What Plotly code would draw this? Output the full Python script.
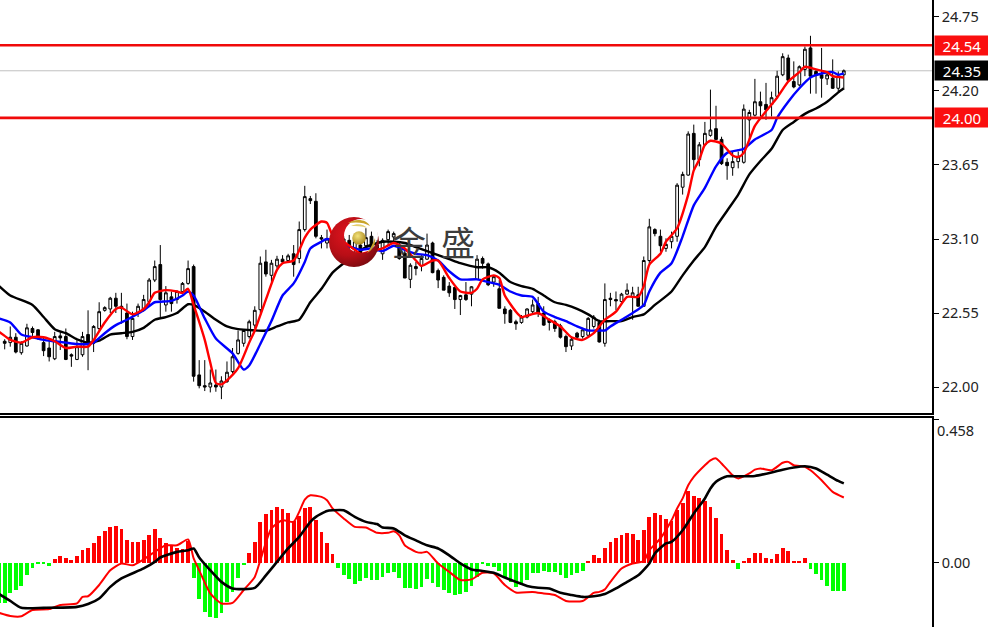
import base64
import plotly.graph_objects as go

# ---- candle data (prices) ----
highs = [22.355,22.45,22.40,22.34,22.47,22.45,22.43,22.375,22.35,22.41,
 22.41,22.435,22.25,22.35,22.41,22.57,22.46,22.63,22.60,22.67,
 22.70,22.70,22.62,22.56,22.62,22.685,22.81,22.94,23.055,22.75,
 22.71,22.72,22.78,22.94,22.91,22.20,22.20,22.13,22.13,22.08,
 22.19,22.29,22.42,22.42,22.50,22.60,22.97,23.02,22.945,22.975,
 22.98,22.99,23.055,23.23,23.495,23.42,23.44,23.13,23.17,23.13,
 23.14,23.12,23.13,23.105,23.09,23.18,23.155,23.09,23.105,23.17,
 23.155,23.07,23.03,22.92,22.93,22.98,23.14,23.08,22.88,22.83,
 22.78,22.745,22.685,22.78,22.75,22.98,22.97,22.925,22.83,22.795,
 22.60,22.58,22.50,22.535,22.585,22.65,22.67,22.60,22.51,22.50,
 22.47,22.39,22.375,22.41,22.44,22.52,22.535,22.50,22.77,22.70,
 22.71,22.70,22.77,22.745,22.745,22.97,23.25,23.18,23.17,23.105,
 23.155,23.515,23.60,23.90,23.95,23.82,23.97,24.21,24.09,23.86,
 23.70,23.75,23.75,24.10,24.06,24.29,24.195,24.26,24.195,24.35,
 24.48,24.47,24.42,24.39,24.53,24.61,24.36,24.52,24.345,24.435,24.345,24.36]
body_tops = [22.34,22.37,22.37,22.325,22.44,22.435,22.425,22.33,22.29,22.375,
 22.38,22.375,22.24,22.30,22.375,22.39,22.45,22.56,22.59,22.66,
 22.66,22.60,22.55,22.51,22.60,22.65,22.795,22.895,22.91,22.70,
 22.67,22.71,22.77,22.88,22.895,22.09,22.01,22.03,22.015,22.045,
 22.11,22.225,22.35,22.42,22.485,22.57,22.92,22.93,22.92,22.95,
 22.95,22.975,22.99,23.17,23.415,23.40,23.38,23.11,23.10,23.10,
 23.105,23.10,23.09,23.08,23.055,23.11,23.12,23.055,23.09,23.155,
 23.14,23.055,22.995,22.905,22.895,22.955,23.055,23.07,22.865,22.815,
 22.75,22.74,22.68,22.685,22.745,22.95,22.955,22.915,22.82,22.73,
 22.58,22.57,22.485,22.52,22.58,22.61,22.62,22.55,22.50,22.485,
 22.455,22.375,22.355,22.40,22.425,22.51,22.52,22.48,22.65,22.66,
 22.65,22.69,22.72,22.70,22.685,22.94,23.19,23.17,23.12,23.06,
 23.12,23.50,23.58,23.88,23.885,23.80,23.885,23.91,23.92,23.84,
 23.67,23.675,23.71,24.065,24.04,24.12,24.12,24.10,24.15,24.31,
 24.455,24.445,24.27,24.38,24.51,24.52,24.345,24.32,24.32,24.295,24.31,24.35]
body_bottoms = [22.325,22.33,22.26,22.255,22.305,22.405,22.36,22.27,22.225,22.21,
 22.365,22.205,22.23,22.205,22.24,22.325,22.325,22.435,22.57,22.58,
 22.60,22.585,22.375,22.375,22.55,22.57,22.635,22.795,22.65,22.61,
 22.62,22.65,22.71,22.77,22.08,22.01,22.00,22.00,22.00,22.00,
 22.04,22.115,22.25,22.325,22.375,22.46,22.575,22.84,22.83,22.90,
 22.93,22.94,22.91,22.955,23.17,23.385,23.12,23.10,23.07,23.07,
 23.055,23.055,23.04,23.03,22.995,23.05,23.03,23.03,22.99,23.095,
 23.115,22.955,22.81,22.80,22.88,22.90,22.95,22.85,22.795,22.72,
 22.70,22.65,22.65,22.65,22.69,22.80,22.92,22.76,22.78,22.585,
 22.545,22.48,22.47,22.48,22.52,22.56,22.55,22.46,22.48,22.435,
 22.37,22.30,22.305,22.37,22.375,22.385,22.45,22.335,22.325,22.65,
 22.64,22.635,22.69,22.67,22.60,22.60,22.94,23.14,23.05,23.03,
 23.08,23.12,23.485,23.575,23.69,23.69,23.80,23.87,23.84,23.66,
 23.645,23.63,23.675,23.67,23.985,24.02,24.09,24.06,24.10,24.16,
 24.32,24.28,24.23,24.245,24.36,24.31,24.32,24.295,24.29,24.22,24.22,24.32]
lows = [22.28,22.30,22.25,22.24,22.30,22.38,22.35,22.23,22.19,22.20,
 22.275,22.20,22.15,22.20,22.225,22.125,22.26,22.42,22.56,22.55,
 22.55,22.47,22.355,22.35,22.52,22.56,22.60,22.78,22.52,22.56,
 22.56,22.62,22.70,22.76,22.04,21.99,21.97,21.96,21.965,21.91,
 22.03,22.10,22.24,22.30,22.36,22.435,22.55,22.82,22.78,22.88,
 22.92,22.925,22.82,22.92,23.155,23.36,23.105,23.03,23.03,23.04,
 23.03,23.03,23.005,22.995,22.98,23.04,23.005,23.005,22.945,23.055,
 23.08,22.945,22.81,22.735,22.83,22.86,22.945,22.845,22.735,22.72,
 22.67,22.58,22.535,22.64,22.60,22.795,22.88,22.75,22.745,22.585,
 22.47,22.475,22.425,22.47,22.51,22.55,22.52,22.455,22.42,22.41,
 22.36,22.26,22.275,22.355,22.36,22.38,22.435,22.33,22.30,22.60,
 22.57,22.62,22.685,22.50,22.60,22.60,22.91,23.12,23.005,23.005,
 23.03,23.08,23.43,23.57,23.61,23.64,23.79,23.86,23.84,23.65,
 23.54,23.57,23.625,23.66,23.84,24.01,24.01,23.985,24.01,24.145,
 24.31,24.27,24.22,24.235,24.31,24.18,24.18,24.15,24.245,24.215,24.195,24.21]
rising = [0,1,0,1,1,0,0,0,0,1,
 0,0,0,1,1,0,1,1,1,1,
 0,0,0,1,1,1,1,1,0,1,
 0,1,1,1,0,0,0,1,0,1,
 1,1,1,1,1,1,1,0,1,1,
 0,1,0,1,1,0,0,0,1,1,
 0,1,0,1,0,1,0,0,1,1,
 1,0,0,1,0,1,1,0,0,0,
 0,0,1,0,1,1,0,0,1,0,
 0,0,0,1,1,1,0,0,0,0,
 0,0,1,0,1,1,1,0,1,0,
 0,1,1,1,0,1,1,0,0,1,
 1,1,1,1,0,1,1,1,0,0,
 0,1,1,1,1,1,0,0,1,1,
 1,0,0,1,1,0,0,0,1,0,1,1]

# ---- moving averages (index, price) ----
red_ma_i = [-1,0,1,3,5,7,9,11,13,15,16,18,20,21,23,25,26,27,29,31,32,33,34,36,37,38,39,40,42,44,45,47,49,50,52,54,55,57,58,59,
 61,63,64,67,68,70,72,74,75,77,78,80,82,84,85,86,88,89,90,92,93,94,96,98,100,102,104,106,108,110,112,114,115,116,118,119,121,123,124,125,126,127,129,131,132,133,135,137,139,141,143,144,146,148,149,151]
red_ma_v = [22.41,22.38,22.35,22.33,22.37,22.37,22.34,22.29,22.30,22.30,22.35,22.48,22.58,22.59,22.54,22.58,22.63,22.70,22.72,22.71,22.70,22.73,22.61,22.35,22.18,22.03,22.02,22.05,22.14,22.33,22.42,22.65,22.87,22.92,22.94,23.11,23.17,23.23,23.22,23.13,
 23.08,23.02,22.99,23.02,23.03,23.07,23.03,22.94,22.90,22.94,22.94,22.81,22.71,22.70,22.73,22.80,22.83,22.81,22.68,22.56,22.52,22.53,22.55,22.50,22.45,22.37,22.35,22.40,22.50,22.56,22.67,22.67,22.75,22.91,22.99,23.08,23.18,23.43,23.61,23.69,23.80,23.83,23.81,23.72,23.71,23.74,23.94,24.05,24.15,24.27,24.34,24.38,24.36,24.34,24.31,24.30]
blue_ma_i = [-1,1,3,5,7,9,11,13,15,16,18,20,22,25,27,30,32,33,34,36,38,41,43,44,46,48,50,52,54,55,57,58,64,66,68,70,72,74,76,78,80,82,85,87,89,91,93,95,97,99,101,103,105,107,108,109,111,113,115,116,118,120,122,124,126,128,130,132,133,135,138,139,141,143,145,147,149,150,151]
blue_ma_v = [22.51,22.48,22.39,22.37,22.35,22.34,22.33,22.32,22.32,22.33,22.40,22.46,22.50,22.57,22.63,22.64,22.68,22.71,22.68,22.51,22.36,22.25,22.13,22.16,22.32,22.49,22.68,22.77,22.93,23.03,23.08,23.10,23.02,23.03,23.01,23.05,23.02,22.99,22.98,22.94,22.86,22.80,22.80,22.78,22.76,22.71,22.68,22.67,22.56,22.52,22.49,22.45,22.42,22.42,22.42,22.45,22.50,22.55,22.61,22.71,22.85,22.92,23.12,23.35,23.48,23.64,23.74,23.76,23.77,23.84,23.91,24.00,24.12,24.22,24.30,24.33,24.34,24.32,24.33]
black_ma_i = [-1,1,5,7,9,11,13,15,17,19,21,23,25,27,29,31,33,34,36,38,40,42,47,49,51,53,55,57,59,61,63,65,68,70,72,74,76,78,80,82,85,87,89,91,93,95,97,99,101,103,105,107,109,111,113,115,117,120,122,124,126,128,130,132,134,136,138,140,142,144,146,148,150,151]
black_ma_v = [22.75,22.68,22.61,22.52,22.43,22.40,22.355,22.33,22.345,22.39,22.40,22.41,22.44,22.50,22.52,22.55,22.615,22.61,22.56,22.50,22.45,22.43,22.42,22.45,22.48,22.50,22.63,22.73,22.85,22.92,22.98,23.04,23.08,23.08,23.07,23.04,23.01,22.98,22.95,22.92,22.89,22.89,22.85,22.78,22.75,22.73,22.68,22.63,22.61,22.58,22.54,22.49,22.49,22.49,22.52,22.54,22.61,22.71,22.83,22.94,23.04,23.19,23.31,23.43,23.58,23.68,23.77,23.91,23.97,24.03,24.07,24.12,24.19,24.22]

# ---- MACD pane ----
hist_v = [-0.131,-0.131,-0.097,-0.088,-0.076,-0.041,-0.016,-0.003,-0.003,-0.012,
 0.010,0.022,0.013,0.007,0.022,0.039,0.045,0.063,0.084,0.101,0.114,
 0.116,0.107,0.071,0.066,0.066,0.071,0.088,0.107,0.080,0.063,
 0.055,0.048,0.043,0.069,-0.048,-0.118,-0.158,-0.174,-0.177,-0.163,
 -0.126,-0.094,-0.048,-0.009,0.031,0.066,0.129,0.155,0.167,0.178,
 0.170,0.159,0.133,0.148,0.176,0.178,0.135,0.098,0.063,0.027,
 -0.017,-0.041,-0.054,-0.069,-0.060,-0.048,-0.057,-0.057,-0.046,-0.035,
 -0.030,-0.048,-0.080,-0.083,-0.086,-0.078,-0.054,-0.065,-0.078,-0.088,
 -0.097,-0.104,-0.101,-0.094,-0.076,-0.046,-0.006,-0.011,-0.014,-0.027,
 -0.046,-0.062,-0.078,-0.072,-0.057,-0.035,-0.032,-0.028,-0.030,-0.030,
 -0.041,-0.048,-0.041,-0.035,-0.027,0.003,0.023,0.013,0.045,0.066,
 0.079,0.087,0.096,0.090,0.071,0.103,0.146,0.160,0.151,0.138,
 0.133,0.167,0.189,0.228,0.212,0.205,0.197,0.178,0.144,0.090,
 0.039,0.007,-0.021,0.004,0.016,0.031,0.031,0.016,0.011,0.027,
 0.048,0.036,0.005,0.004,0.013,-0.021,-0.038,-0.057,-0.075,-0.092,-0.092,-0.092]
macd_red_i = [-1,1,3,5,8,10,13,14,15,17,19,21,23,25,27,29,31,33,34,35,37,39,41,43,45,46,48,50,52,53,54,55,57,58,
 59,61,63,65,67,69,70,71,72,74,75,76,78,80,82,84,86,88,90,92,95,97,99,101,104,106,107,108,109,111,113,115,116,
 118,120,121,122,123,124,126,127,128,129,131,132,134,135,136,138,140,141,142,144,145,147,149,151]
macd_red_v = [-0.161,-0.171,-0.172,-0.152,-0.149,-0.136,-0.131,-0.110,-0.108,-0.072,-0.025,-0.003,-0.009,0.010,0.034,0.055,0.055,0.074,0.013,-0.025,-0.099,-0.131,-0.129,-0.088,-0.046,0.007,0.109,0.135,0.130,0.162,0.201,0.215,0.210,0.199,
 0.173,0.141,0.114,0.112,0.095,0.095,0.100,0.087,0.055,0.034,0.031,0.034,-0.003,-0.030,-0.056,-0.054,-0.033,-0.035,-0.072,-0.096,-0.094,-0.099,-0.104,-0.123,-0.123,-0.097,-0.094,-0.086,-0.062,-0.019,-0.003,0.005,0.039,
 0.077,0.135,0.173,0.205,0.247,0.274,0.311,0.327,0.333,0.317,0.279,0.269,0.285,0.297,0.301,0.295,0.319,0.322,0.311,0.306,0.295,0.263,0.226,0.208]
macd_black_i = [-1,1,3,7,13,15,17,19,21,25,27,28,31,33,34,35,37,39,41,45,47,49,51,53,55,56,58,
 59,61,63,65,67,68,70,72,74,76,78,80,82,84,86,88,90,92,94,96,98,100,102,104,106,108,110,112,114,116,
 117,119,120,122,124,126,127,128,129,130,132,135,138,140,142,144,146,148,150,151]
macd_black_v = [-0.101,-0.123,-0.145,-0.145,-0.142,-0.133,-0.115,-0.078,-0.051,-0.019,0.002,0.016,0.034,0.039,0.045,0.016,-0.025,-0.062,-0.083,-0.081,-0.041,0.002,0.045,0.082,0.130,0.146,0.165,
 0.167,0.167,0.146,0.130,0.123,0.112,0.109,0.087,0.071,0.055,0.045,0.023,-0.003,-0.022,-0.027,-0.033,-0.048,-0.062,-0.075,-0.081,-0.083,-0.097,-0.104,-0.110,-0.108,-0.101,-0.083,-0.062,-0.041,-0.003,
 0.029,0.061,0.066,0.103,0.157,0.205,0.237,0.258,0.269,0.276,0.276,0.277,0.288,0.297,0.304,0.308,0.301,0.281,0.261,0.253]

price_ticks = [22.00, 22.55, 23.10, 23.65, 24.20, 24.75]
level_prices = [24.54, 24.00]
last_price = 24.35
macd_top = 0.458

candle_x = list(range(len(highs)))
opens = [b if u else t for t, b, u in zip(body_tops, body_bottoms, rising)]
closes = [t if u else b for t, b, u in zip(body_tops, body_bottoms, rising)]
hist_x = list(range(-1, len(highs)))
hist_colors = ["#ff0000" if v > 0 else "#00ff00" for v in hist_v]

W, H, AX = 988, 627, 932
FONT = "Noto Sans"

fig = go.Figure()
fig.add_trace(go.Candlestick(
    x=candle_x, open=opens, high=highs, low=lows, close=closes,
    xaxis="x", yaxis="y", whiskerwidth=0,
    increasing=dict(line=dict(color="#000000", width=1), fillcolor="#ffffff"),
    decreasing=dict(line=dict(color="#000000", width=1), fillcolor="#000000"),
))
for xs, ys, c in [(black_ma_i, black_ma_v, "#000000"), (blue_ma_i, blue_ma_v, "#0000ff"), (red_ma_i, red_ma_v, "#ff0000")]:
    fig.add_trace(go.Scatter(x=xs, y=ys, mode="lines", line=dict(color=c, width=2.4, shape="spline", smoothing=0.6), xaxis="x", yaxis="y"))
fig.add_trace(go.Bar(x=hist_x, y=hist_v, width=0.68, marker=dict(color=hist_colors, line=dict(width=0)), xaxis="x2", yaxis="y2"))
fig.add_trace(go.Scatter(x=macd_red_i, y=macd_red_v, mode="lines", line=dict(color="#ff0000", width=2, shape="spline", smoothing=0.6), xaxis="x2", yaxis="y2"))
fig.add_trace(go.Scatter(x=macd_black_i, y=macd_black_v, mode="lines", line=dict(color="#000000", width=2.6, shape="spline", smoothing=0.6), xaxis="x2", yaxis="y2"))

shapes = [dict(type="line", xref="paper", x0=0, x1=1, yref="y", y0=last_price, y1=last_price,
               line=dict(color="#c0c0c0", width=1), layer="below")]
for p in level_prices:
    shapes.append(dict(type="line", xref="paper", x0=0, x1=1, yref="y", y0=p, y1=p,
                       line=dict(color="#f00a0a", width=2.6)))

tags = [(24.54, "#fa0f0f"), (24.35, "#000000"), (24.00, "#fa0f0f")]
annotations = []
for p, col in tags:
    annotations.append(dict(xref="paper", yref="y", x=1, y=p, xanchor="left", yanchor="middle", xshift=2,
                            text=f"{p:.2f}", showarrow=False, bgcolor=col, width=54, height=19, borderpad=0,
                            font=dict(family=FONT, size=15, color="#ffffff"), align="center"))
annotations.append(dict(xref="paper", yref="y2", x=1, y=macd_top, xanchor="left", yanchor="middle", xshift=3, yshift=-11,
                        text=f"{macd_top}", showarrow=False, font=dict(family=FONT, size=14.5, color="#222222")))
for ch, px in [("金", 409), ("盛", 458)]:
    annotations.append(dict(xref="paper", yref="paper", x=px / AX, y=1 - 241 / H, xanchor="center", yanchor="middle",
                            text=ch, showarrow=False, font=dict(family="Noto Sans CJK SC", size=34, color="#3c3c3c")))

logo_svg = """<svg xmlns='http://www.w3.org/2000/svg' width='100' height='100' viewBox='0 0 50 50'>
<defs>
<radialGradient id='r' cx='38%' cy='35%' r='70%'><stop offset='0' stop-color='#e0141e'/><stop offset='0.6' stop-color='#b80e16'/><stop offset='1' stop-color='#7a0a10'/></radialGradient>
<radialGradient id='g' cx='40%' cy='35%' r='70%'><stop offset='0' stop-color='#f3e27a'/><stop offset='1' stop-color='#a8861c'/></radialGradient>
<mask id='m'><rect width='50' height='50' fill='white'/><circle cx='32' cy='19' r='17' fill='black'/></mask>
</defs>
<circle cx='25' cy='25' r='25' fill='url(#r)' mask='url(#m)'/>
<path d='M19 6 C26 1 38 2 41 9 C35 5 27 5 19 6 Z' fill='#c9a52c'/>
<path d='M22 9 C28 6 35 7 38 11 C33 9 27 9 22 9 Z' fill='#e4cf70'/>
<path d='M46 21 C47 27 44 33 38 36 C42 31 44 26 46 21 Z' fill='#c9a52c'/>
<circle cx='30' cy='21' r='6.8' fill='url(#g)'/>
</svg>"""
logo_src = "data:image/svg+xml;base64," + base64.b64encode(logo_svg.encode()).decode()

x_range = [(0 - 4.7) / 5.557, (AX - 4.7) / 5.557]
fig.update_layout(
    width=W, height=H, autosize=False, showlegend=False, paper_bgcolor="#ffffff", plot_bgcolor="#ffffff",
    margin=dict(l=0, r=W - AX, t=0, b=0), bargap=0,
    font=dict(family=FONT, size=14.5, color="#222222"),
    xaxis=dict(domain=[0, 1], range=x_range, rangeslider=dict(visible=False), showticklabels=False, ticks="",
               showgrid=False, zeroline=False, showline=True, linecolor="#000000", linewidth=1.5, anchor="y"),
    xaxis2=dict(domain=[0, 1], range=x_range, showticklabels=False, ticks="", showgrid=False, zeroline=False,
                showline=True, linecolor="#000000", linewidth=1.5, anchor="y2", side="top"),
    yaxis=dict(domain=[1 - 413 / H, 1], range=[21.807, 24.876], side="right", anchor="x", tickmode="array",
               tickvals=price_ticks, ticktext=[f"{v:.2f}" for v in price_ticks], ticks="outside", ticklen=5,
               tickcolor="#000000", showgrid=False, zeroline=False, showline=True, linecolor="#000000", linewidth=1.5),
    yaxis2=dict(domain=[0, 1 - 418 / H], range=[-0.2063, 0.4623], side="right", anchor="x2", tickmode="array",
                tickvals=[0, macd_top], ticktext=["0.00", ""], ticks="outside", ticklen=5, tickcolor="#000000",
                showgrid=False, zeroline=False, showline=True, linecolor="#000000", linewidth=1.5),
    shapes=shapes, annotations=annotations,
    images=[dict(source=logo_src, xref="paper", yref="paper", x=329 / AX, y=1 - 217 / H, sizex=50 / AX, sizey=50 / H,
                 xanchor="left", yanchor="top", sizing="stretch", layer="above")],
)
fig.write_html("out.html", config=dict(displayModeBar=False),
               post_script="document.documentElement.style.overflow='hidden';document.body.style.margin='0';document.body.style.padding='0';")
